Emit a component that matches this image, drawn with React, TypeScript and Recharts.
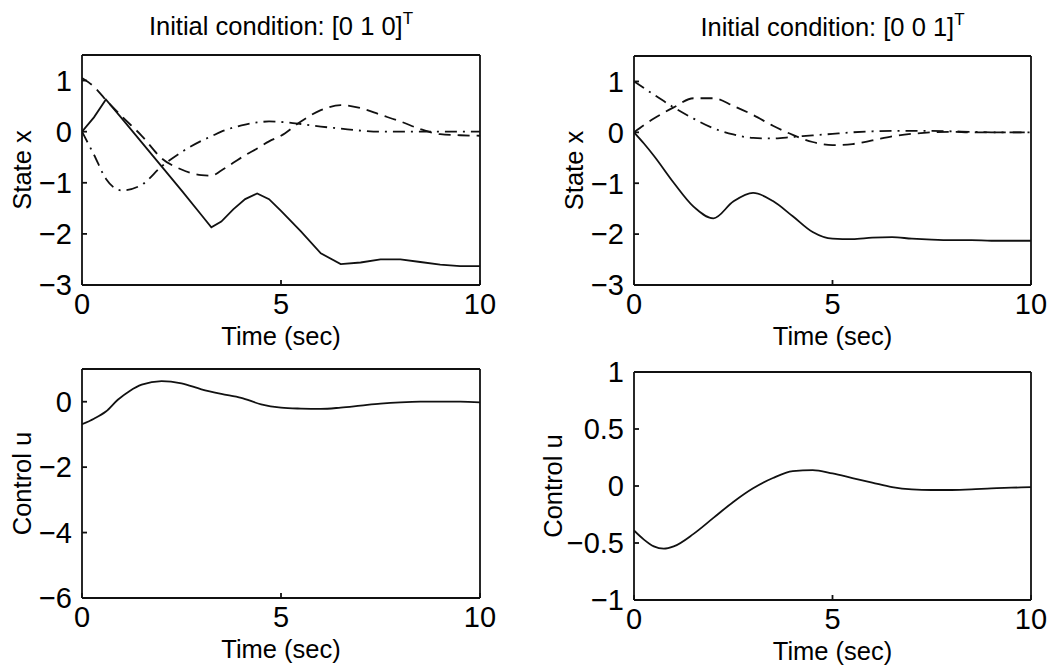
import React from 'react';
import { LineChart, Line, XAxis, YAxis, Label } from 'recharts';

const FONT = '"Liberation Sans", Arial, Helvetica, sans-serif';
const INK = '#111';

// Initial condition [0 1 0]^T : states
const timeA = [0, 0.3, 0.6, 1, 1.5, 2, 2.5, 3, 3.25, 3.5, 3.8, 4.1, 4.4, 4.7, 5, 5.5, 6, 6.5, 7, 7.5, 8, 8.5, 9, 9.5, 10];
const stateA1 = [0, 0.28, 0.63, 0.26, -0.21, -0.68, -1.15, -1.63, -1.87, -1.76, -1.52, -1.32, -1.21, -1.32, -1.55, -1.95, -2.38, -2.59, -2.56, -2.5, -2.5, -2.55, -2.6, -2.63, -2.63];
const stateA2 = [1.05, 0.88, 0.62, 0.3, -0.08, -0.52, -0.74, -0.85, -0.86, -0.76, -0.61, -0.46, -0.33, -0.19, -0.08, 0.2, 0.42, 0.52, 0.46, 0.33, 0.2, 0.05, -0.05, -0.07, -0.08];
const stateA3 = [0, -0.45, -0.92, -1.15, -1.04, -0.68, -0.4, -0.18, -0.09, 0, 0.08, 0.14, 0.18, 0.2, 0.19, 0.15, 0.1, 0.06, 0.02, 0, 0, 0, 0, 0, 0];

// Initial condition [0 0 1]^T : states
const timeB = [0, 0.25, 0.5, 1, 1.5, 2, 2.5, 3, 3.5, 4, 4.5, 5, 5.5, 6, 6.5, 7, 7.5, 8, 8.5, 9, 9.5, 10];
const stateB1 = [0, -0.22, -0.46, -0.99, -1.46, -1.69, -1.36, -1.19, -1.35, -1.65, -1.96, -2.09, -2.1, -2.07, -2.06, -2.09, -2.11, -2.12, -2.12, -2.13, -2.13, -2.13];
const stateB2 = [0, 0.14, 0.27, 0.49, 0.67, 0.67, 0.52, 0.34, 0.13, -0.05, -0.19, -0.25, -0.23, -0.16, -0.08, -0.03, 0, 0.01, 0, 0, 0, 0];
const stateB3 = [1, 0.87, 0.74, 0.49, 0.27, 0.08, -0.04, -0.11, -0.12, -0.09, -0.06, -0.03, 0, 0.02, 0.03, 0.03, 0.03, 0.02, 0.01, 0, 0, 0];

// controls
const timeC = [0, 0.3, 0.6, 0.9, 1.2, 1.5, 2, 2.5, 3, 3.5, 4, 4.5, 5, 5.5, 6, 6.5, 7, 7.5, 8, 8.5, 9, 9.5, 10];
const controlC = [-0.69, -0.52, -0.3, 0.06, 0.33, 0.52, 0.63, 0.56, 0.38, 0.24, 0.12, -0.08, -0.18, -0.21, -0.22, -0.18, -0.12, -0.06, -0.02, 0, 0, 0, -0.02];
const timeD = [0, 0.25, 0.5, 0.75, 1, 1.5, 2, 2.5, 3, 3.5, 4, 4.5, 5, 5.5, 6, 6.5, 7, 7.5, 8, 8.5, 9, 9.5, 10];
const controlD = [-0.39, -0.47, -0.53, -0.55, -0.53, -0.42, -0.28, -0.14, -0.02, 0.07, 0.13, 0.14, 0.11, 0.07, 0.03, -0.01, -0.03, -0.035, -0.035, -0.03, -0.02, -0.015, -0.01];

const timeTicks = [0, 5, 10];
const stateTicks = [-3, -2, -1, 0, 1];
const controlTicksC = [-6, -4, -2, 0];
const controlTicksD = [-1, -0.5, 0, 0.5, 1];

const zip = (t: number[], cols: Record<string, number[]>) =>
  t.map((v, i) => {
    const row: any = { t: v };
    Object.keys(cols).forEach((k) => (row[k] = cols[k][i]));
    return row;
  });

const fmt = (v: number) => String(v).replace('-', '\u2212');
const tickStyle = { fontSize: 29, fill: '#000', fontFamily: FONT };

const YTitle = (text: string, dx: number) => (props: any) => {
  const { x, y, width, height } = props.viewBox;
  const cx = x + width - dx;
  const cy = y + height / 2;
  return (
    <text x={cx} y={cy} transform={`rotate(-90, ${cx}, ${cy})`} textAnchor="middle" dominantBaseline="central"
      fontSize={25.5} fontFamily={FONT} fill="#000">{text}</text>
  );
};

const XTitle = (props: any) => {
  const { x, y, width } = props.viewBox;
  return (
    <text x={x + width / 2} y={y + 60} textAnchor="middle" fontSize={25.5} fontFamily={FONT} fill="#000">Time (sec)</text>
  );
};

type Series = { key: string; dash?: string; curve?: any };

const Panel = ({ plotLeft, plotTop, plotW, plotH, marginTop, title, yTitle, yTitleDx, yDomain, yTicks, data, series }: any) => {
  const yAxisW = 100;
  const width = yAxisW + plotW + 20;
  const height = marginTop + plotH + 70;
  return (
    <div style={{ position: 'absolute', left: plotLeft - yAxisW, top: plotTop - marginTop, width, height }}>
      {title ? (
        <div style={{ position: 'absolute', left: yAxisW, top: marginTop - 45, width: plotW, textAlign: 'center',
          fontFamily: FONT, fontSize: 25.5, lineHeight: '32px', color: '#000', whiteSpace: 'nowrap' }}>
          {title}<sup style={{ fontSize: 17, lineHeight: 0, verticalAlign: 0, position: 'relative', top: -11 }}>T</sup>
        </div>
      ) : null}
      <LineChart width={width} height={height} data={data} margin={{ top: marginTop - 1, right: 19, bottom: 0, left: 0 }}>
        <XAxis dataKey="t" type="number" domain={[0, 10]} ticks={timeTicks} allowDataOverflow
          height={70} tickSize={-5} tickMargin={13} tick={tickStyle} stroke={INK} strokeWidth={1.8}>
          <Label content={XTitle} />
        </XAxis>
        <XAxis xAxisId="top" orientation="top" dataKey="t" type="number" domain={[0, 10]} ticks={timeTicks}
          height={1} tickSize={-5} tick={false} stroke={INK} strokeWidth={1.8} />
        <YAxis type="number" domain={yDomain} ticks={yTicks} allowDataOverflow width={yAxisW}
          tickSize={-5} tickMargin={15} tick={tickStyle} tickFormatter={fmt} stroke={INK} strokeWidth={1.8}>
          <Label content={YTitle(yTitle, yTitleDx)} />
        </YAxis>
        <YAxis yAxisId="r" orientation="right" type="number" domain={yDomain} ticks={yTicks} allowDataOverflow
          width={1} tickSize={-5} tick={false} stroke={INK} strokeWidth={1.8} />
        {series.map((s: Series) => (
          <Line key={s.key} dataKey={s.key} type={s.curve || 'monotone'} stroke={INK} strokeWidth={1.8}
            strokeDasharray={s.dash} dot={false} isAnimationActive={false} />
        ))}
      </LineChart>
    </div>
  );
};

const dataA = zip(timeA, { x1: stateA1, x2: stateA2, x3: stateA3 });
const dataB = zip(timeB, { x1: stateB1, x2: stateB2, x3: stateB3 });
const dataC = zip(timeC, { u: controlC });
const dataD = zip(timeD, { u: controlD });

const stateSeriesA: Series[] = [
  { key: 'x1', curve: 'linear' },
  { key: 'x2', dash: '12 7' },
  { key: 'x3', dash: '12 6 2 6' },
];
const stateSeriesB: Series[] = [
  { key: 'x1' },
  { key: 'x2', dash: '12 7' },
  { key: 'x3', dash: '12 6 2 6' },
];

export default function App() {
  return (
    <div style={{ position: 'absolute', left: 0, top: 0, width: 1057, height: 671, background: '#fff', overflow: 'hidden' }}>
      <Panel plotLeft={82} plotTop={55} plotW={398} plotH={230} marginTop={55} title="Initial condition: [0 1 0]"
        yTitle="State x" yTitleDx={60} yDomain={[-3, 1.5]} yTicks={stateTicks} data={dataA} series={stateSeriesA} />
      <Panel plotLeft={634} plotTop={56} plotW={397} plotH={229} marginTop={55} title="Initial condition: [0 0 1]"
        yTitle="State x" yTitleDx={60} yDomain={[-3, 1.5]} yTicks={stateTicks} data={dataB} series={stateSeriesB} />
      <Panel plotLeft={82} plotTop={369} plotW={398} plotH={229} marginTop={20}
        yTitle="Control u" yTitleDx={60} yDomain={[-6, 1]} yTicks={controlTicksC} data={dataC} series={[{ key: 'u' }]} />
      <Panel plotLeft={634} plotTop={372} plotW={397} plotH={228} marginTop={20}
        yTitle="Control u" yTitleDx={81} yDomain={[-1, 1]} yTicks={controlTicksD} data={dataD} series={[{ key: 'u' }]} />
    </div>
  );
}
